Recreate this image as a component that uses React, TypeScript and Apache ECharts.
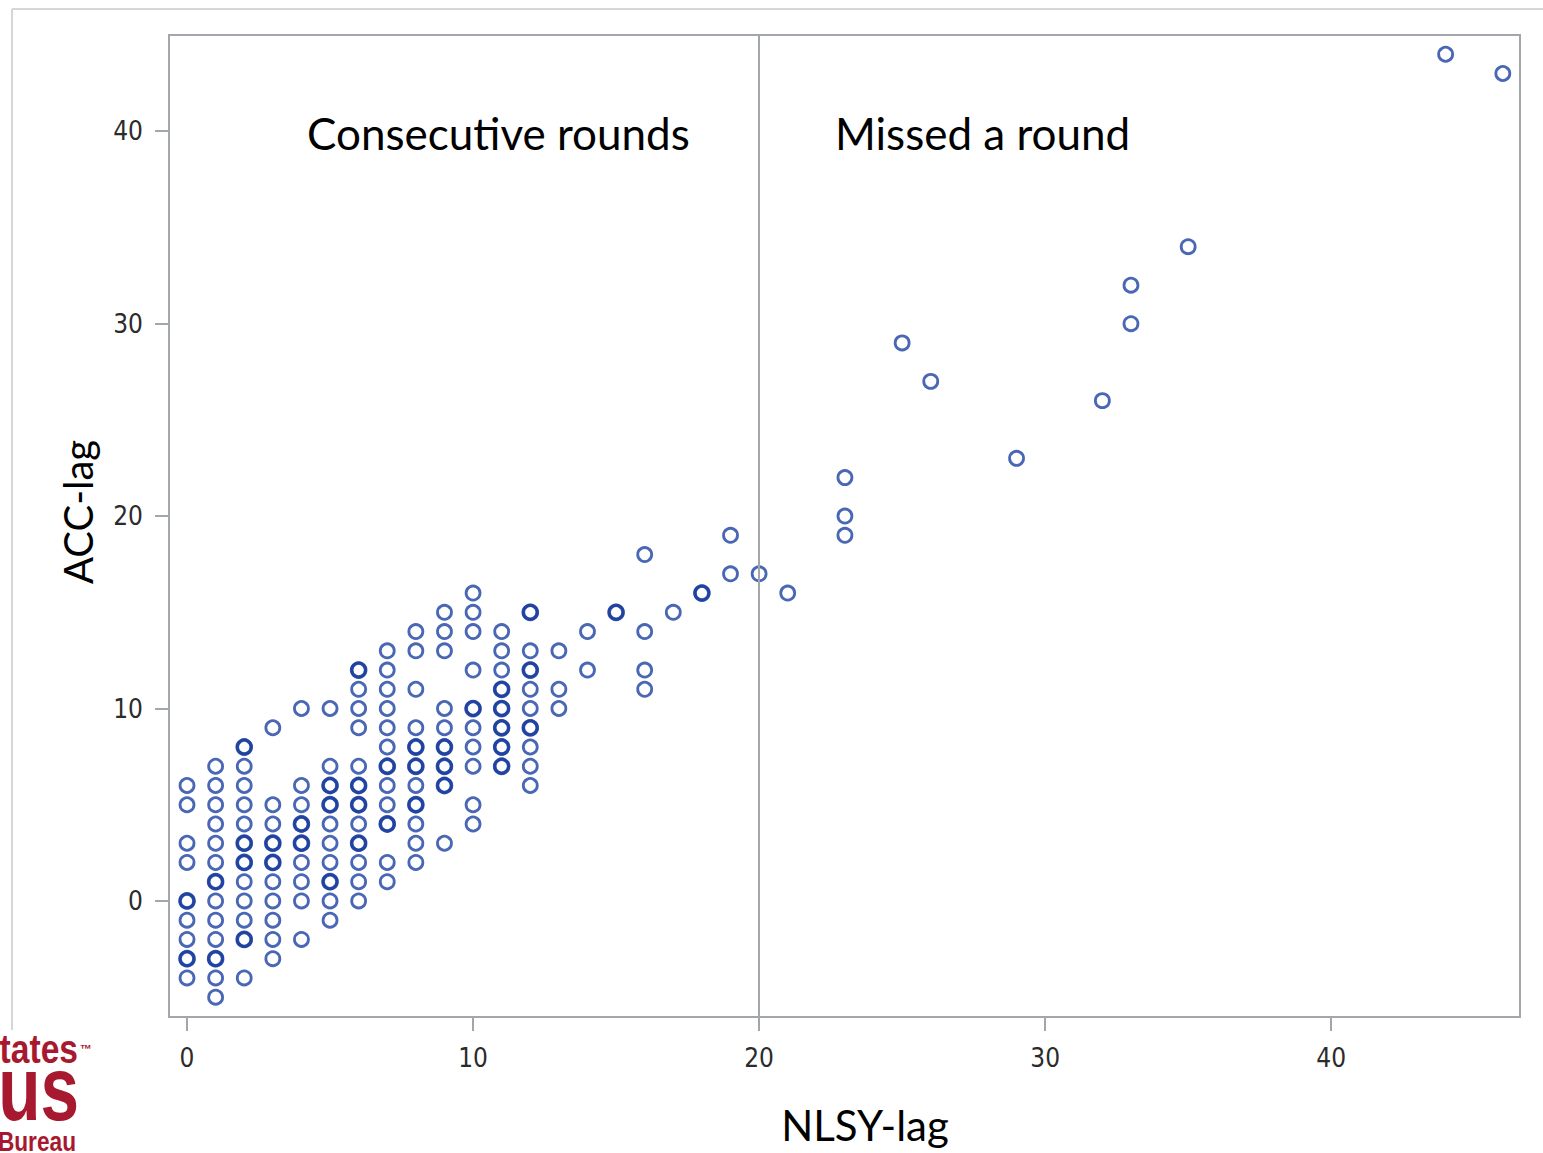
import React, { useEffect, useRef } from "react";
import * as echarts from "echarts";

// NLSY-lag values (x) for each column of points
const nlsyLag = [0, 1, 2, 3, 4, 5, 6, 7, 8, 9, 10, 11, 12, 13, 14, 15, 16, 17, 18, 19, 20, 21, 23, 25, 26, 29, 32, 33, 35, 44, 46];
// ACC-lag values (y) observed at each NLSY-lag value
const accLag = [
  [6, 5, 3, 2, 0, -1, -2, -3, -4],
  [7, 6, 5, 4, 3, 2, 1, 0, -1, -2, -3, -4, -5],
  [8, 7, 6, 5, 4, 3, 2, 1, 0, -1, -2, -4],
  [9, 5, 4, 3, 2, 1, 0, -1, -2, -3],
  [10, 6, 5, 4, 3, 2, 1, 0, -2],
  [10, 7, 6, 5, 4, 3, 2, 1, 0, -1],
  [12, 11, 10, 9, 7, 6, 5, 4, 3, 2, 1, 0],
  [13, 12, 11, 10, 9, 8, 7, 6, 5, 4, 2, 1],
  [14, 13, 11, 9, 8, 7, 6, 5, 4, 3, 2],
  [15, 14, 13, 10, 9, 8, 7, 6, 3],
  [16, 15, 14, 12, 10, 9, 8, 7, 5, 4],
  [14, 13, 12, 11, 10, 9, 8, 7],
  [15, 13, 12, 11, 10, 9, 8, 7, 6],
  [13, 11, 10],
  [14, 12],
  [15],
  [18, 14, 12, 11],
  [15],
  [16],
  [19, 17],
  [17],
  [16],
  [22, 20, 19],
  [29],
  [27],
  [23],
  [26],
  [32, 30],
  [34],
  [44],
  [43],
];
// Points that occur more than once (overplotted, drawn darker)
const repeatedX = [0, 0, 1, 1, 2, 2, 2, 2, 3, 3, 4, 4, 5, 5, 5, 6, 6, 6, 6, 7, 7, 8, 8, 8, 9, 9, 9, 10, 11, 11, 11, 11, 11, 12, 12, 12, 15, 18];
const repeatedY = [0, -3, 1, -3, 8, 3, 2, -2, 3, 2, 4, 3, 6, 5, 1, 12, 6, 5, 3, 7, 4, 8, 7, 5, 8, 7, 6, 10, 11, 10, 9, 8, 7, 15, 12, 9, 15, 16];

const xTicks = [0, 10, 20, 30, 40];
const yTicks = [0, 10, 20, 30, 40];
const dividerX = 20;

const BLUE = "#1c41a3";
const FRAME = "#a3a7ab";
const LOGO = "#a6192e";

export default function App() {
  const ref = useRef<HTMLDivElement>(null);
  useEffect(() => {
    if (!ref.current) return;
    const chart = echarts.init(ref.current, null, { renderer: "svg" });
    const points: number[][] = [];
    nlsyLag.forEach((x, i) => accLag[i].forEach((y) => points.push([x, y])));
    const repeated = repeatedX.map((x, i) => [x, repeatedY[i]]);
    const tickFont = {
      fontFamily: "'DejaVu Sans Condensed', 'DejaVu Sans', sans-serif",
      fontSize: 26,
      color: "#2b2b2b",
    };
    const bodyFont = "Lato, 'Open Sans', sans-serif";
    const logoFont = "'Liberation Sans', Arial, sans-serif";
    chart.setOption({
      animation: false,
      backgroundColor: "#ffffff",
      grid: {
        left: 169,
        top: 35,
        right: 23,
        bottom: 136,
        show: true,
        borderColor: FRAME,
        borderWidth: 2,
        backgroundColor: "transparent",
      },
      xAxis: {
        type: "value",
        min: -0.63,
        max: 46.6,
        splitLine: { show: false },
        axisLine: { show: false, onZero: false },
        axisTick: { show: true, inside: false, length: 14, lineStyle: { color: FRAME, width: 2 }, customValues: xTicks },
        axisLabel: { ...tickFont, margin: 28, customValues: xTicks },
      },
      yAxis: {
        type: "value",
        min: -6.03,
        max: 45.0,
        splitLine: { show: false },
        axisLine: { show: false, onZero: false },
        axisTick: { show: true, inside: false, length: 14, lineStyle: { color: FRAME, width: 2 }, customValues: yTicks },
        axisLabel: { ...tickFont, margin: 26, customValues: yTicks },
      },
      series: [
        {
          type: "scatter",
          data: points,
          symbol: "circle",
          symbolSize: 14,
          itemStyle: { color: "rgba(255,255,255,0)", borderColor: BLUE, borderWidth: 2.8 },
          markLine: {
            silent: true,
            symbol: "none",
            label: { show: false },
            lineStyle: { color: FRAME, width: 2, type: "solid" },
            data: [{ xAxis: dividerX }],
          },
        },
        {
          type: "scatter",
          data: repeated,
          symbol: "circle",
          symbolSize: 14,
          itemStyle: { color: "rgba(255,255,255,0)", borderColor: "#163a9c", borderWidth: 3.6 },
        },
      ],
      graphic: [
        { type: "line", shape: { x1: 12, y1: 9, x2: 1543, y2: 9 }, style: { stroke: "#d6d6d6", lineWidth: 2 } },
        { type: "line", shape: { x1: 12, y1: 9, x2: 12, y2: 1030 }, style: { stroke: "#d6d6d6", lineWidth: 2 } },
        {
          type: "text",
          x: 307,
          y: 133,
          style: { text: "Consecutive rounds", font: `44px ${bodyFont}`, fill: "#000", textVerticalAlign: "middle" },
        },
        {
          type: "text",
          x: 835,
          y: 133,
          style: { text: "Missed a round", font: `44px ${bodyFont}`, fill: "#000", textVerticalAlign: "middle" },
        },
        {
          type: "text",
          x: 865,
          y: 1125,
          style: { text: "NLSY-lag", font: `42px ${bodyFont}`, fill: "#000", textAlign: "center", textVerticalAlign: "middle" },
        },
        {
          type: "text",
          x: 78,
          y: 512,
          rotation: Math.PI / 2,
          style: { text: "ACC-lag", font: `40px ${bodyFont}`, fill: "#000", textAlign: "center", textVerticalAlign: "middle" },
        },
        {
          type: "text",
          x: 78,
          y: 1069,
          scaleX: 0.84,
          style: { text: "United States", font: `bold 40px ${logoFont}`, fill: LOGO, textAlign: "right", textVerticalAlign: "bottom" },
        },
        {
          type: "text",
          x: 80,
          y: 1049,
          style: { text: "™", font: `bold 12px ${logoFont}`, fill: LOGO, textAlign: "left", textVerticalAlign: "middle" },
        },
        {
          type: "text",
          x: 79,
          y: 1134,
          scaleX: 0.77,
          style: { text: "Census", font: `bold 90px ${logoFont}`, fill: LOGO, textAlign: "right", textVerticalAlign: "bottom" },
        },
        {
          type: "text",
          x: 76,
          y: 1155,
          scaleX: 0.84,
          style: { text: "Bureau", font: `bold 27px ${logoFont}`, fill: LOGO, textAlign: "right", textVerticalAlign: "bottom" },
        },
      ],
    });
    return () => chart.dispose();
  }, []);
  return (
    <div
      ref={ref}
      style={{ position: "absolute", left: 0, top: 0, width: 1543, height: 1153 }}
    />
  );
}
